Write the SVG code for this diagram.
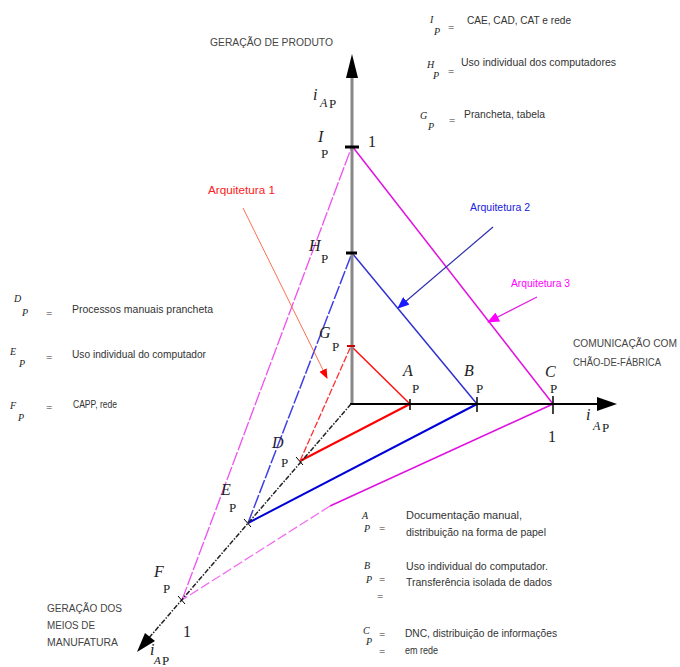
<svg xmlns="http://www.w3.org/2000/svg" width="680" height="667" viewBox="0 0 680 667">
<defs>
<marker id="mr" markerWidth="10" markerHeight="8" refX="9" refY="4" orient="auto" markerUnits="userSpaceOnUse"><path d="M0,0 L10,4 L0,8 Z" fill="#ff0000"/></marker>
<marker id="mb" markerWidth="12" markerHeight="10" refX="11" refY="5" orient="auto" markerUnits="userSpaceOnUse"><path d="M0,0 L12,5 L0,10 Z" fill="#1a1aff"/></marker>
<marker id="mm" markerWidth="12" markerHeight="10" refX="11" refY="5" orient="auto" markerUnits="userSpaceOnUse"><path d="M0,0 L12,5 L0,10 Z" fill="#ff00ff"/></marker>
</defs>
<style>
.lg{font-family:"Liberation Sans",Arial,sans-serif;font-size:10px;fill:#333}
.cap{font-family:"Liberation Sans",Arial,sans-serif;font-size:10px;fill:#444}
.v{font-family:"Liberation Serif","Times New Roman",serif;font-style:italic;fill:#222}
.vs{font-family:"Liberation Serif","Times New Roman",serif;font-size:10px;font-style:italic;fill:#222}
.eq{font-family:"Liberation Serif","Times New Roman",serif;font-size:11px;fill:#333}
.big{font-family:"Liberation Serif","Times New Roman",serif;font-size:16px;font-style:italic;fill:#222}
.sub{font-family:"Liberation Serif","Times New Roman",serif;font-size:13px;fill:#222}
.one{font-family:"Liberation Serif","Times New Roman",serif;font-size:16px;fill:#222}
</style>
<rect width="680" height="667" fill="#ffffff"/>

<g id="connectors" fill="none">
  <!-- architecture 3 (magenta) -->
  <line x1="352" y1="146" x2="553" y2="404" stroke="#e010e0" stroke-width="1.5"/>
  <line x1="553" y1="404" x2="330" y2="506" stroke="#e010e0" stroke-width="1.5"/>
  <line x1="330" y1="506" x2="182" y2="600" stroke="#f070f0" stroke-width="1.3" stroke-dasharray="10,3"/>
  <line x1="182" y1="600" x2="352" y2="146" stroke="#f050f0" stroke-width="1.3" stroke-dasharray="14,2"/>
  <!-- architecture 2 (blue) -->
  <line x1="352" y1="253" x2="477" y2="404" stroke="#3030d0" stroke-width="1.5"/>
  <line x1="477" y1="404" x2="248" y2="523" stroke="#0000d8" stroke-width="2"/>
  <line x1="248" y1="523" x2="352" y2="253" stroke="#4040e8" stroke-width="1.5" stroke-dasharray="14,2"/>
  <!-- architecture 1 (red) -->
  <line x1="351" y1="346" x2="410" y2="404" stroke="#ff1010" stroke-width="1.5"/>
  <line x1="410" y1="404" x2="300" y2="461" stroke="#ff0000" stroke-width="2"/>
  <line x1="300" y1="461" x2="351" y2="346" stroke="#ff3030" stroke-width="1.3" stroke-dasharray="7,2"/>
  <!-- axes -->
  <line x1="352" y1="404" x2="352" y2="76" stroke="#888888" stroke-width="3"/>
  <path d="M352,54 L346,78 L358,78 Z" fill="#000"/>
  <line x1="350" y1="404" x2="598" y2="404" stroke="#000" stroke-width="2"/>
  <path d="M617,404 L597,397 L597,411 Z" fill="#000"/>
  <line x1="351" y1="404" x2="148" y2="639" stroke="#222" stroke-width="1.5" stroke-dasharray="5,1.5,1.5,1.5"/>
  <path d="M137,652 L155,641 L145,633 Z" fill="#000"/>
  <!-- ticks -->
  <line x1="345" y1="147" x2="359" y2="147" stroke="#000" stroke-width="3"/>
  <line x1="346" y1="253" x2="357" y2="253" stroke="#000" stroke-width="3"/>
  <line x1="347" y1="346" x2="355" y2="346" stroke="#cc0000" stroke-width="2"/>
  <line x1="410" y1="399" x2="410" y2="410" stroke="#000" stroke-width="1.5"/>
  <line x1="477" y1="397" x2="477" y2="412" stroke="#000" stroke-width="1.5"/>
  <line x1="553" y1="396" x2="553" y2="414" stroke="#000" stroke-width="1.5"/>
  <line x1="296" y1="457" x2="303" y2="465" stroke="#000" stroke-width="1"/>
  <line x1="244" y1="519" x2="251" y2="527" stroke="#000" stroke-width="1"/>
  <line x1="178" y1="596" x2="185" y2="604" stroke="#000" stroke-width="1"/>
  <!-- architecture pointers -->
  <line x1="243" y1="208" x2="327" y2="378" stroke="#ff7050" stroke-width="1" marker-end="url(#mr)"/>
  <line x1="493" y1="227" x2="398" y2="308" stroke="#3030b0" stroke-width="1.2" marker-end="url(#mb)"/>
  <line x1="537" y1="297" x2="488" y2="322" stroke="#e020e0" stroke-width="1.2" marker-end="url(#mm)"/>
</g>

<g id="axis-product">
  <text class="cap" x="210" y="46" textLength="123" lengthAdjust="spacingAndGlyphs">GERAÇÃO DE PRODUTO</text>
  <text class="big" x="313" y="100">i</text><text class="v" font-size="12" x="320" y="107">A</text><text class="sub" font-size="11" x="329" y="108">P</text>
</g>
<g id="axis-shopfloor">
  <text class="cap" x="573" y="347" textLength="104" lengthAdjust="spacingAndGlyphs">COMUNICAÇÃO COM</text>
  <text class="cap" x="573" y="366" textLength="88" lengthAdjust="spacingAndGlyphs">CHÃO-DE-FÁBRICA</text>
  <text class="big" x="586" y="420">i</text><text class="v" font-size="12" x="593" y="430">A</text><text class="sub" font-size="11" x="602" y="432">P</text>
  <text class="one" x="548" y="442">1</text>
</g>
<g id="axis-manufacturing">
  <text class="cap" x="47" y="612" textLength="75" lengthAdjust="spacingAndGlyphs">GERAÇÃO DOS</text>
  <text class="cap" x="47" y="629" textLength="48" lengthAdjust="spacingAndGlyphs">MEIOS DE</text>
  <text class="cap" x="47" y="646" textLength="71" lengthAdjust="spacingAndGlyphs">MANUFATURA</text>
  <text class="big" x="150" y="655">i</text><text class="v" font-size="11" x="154" y="664">A</text><text class="sub" font-size="10" x="162" y="665">P</text>
  <text class="one" x="183" y="637">1</text>
</g>

<g id="point-I"><text class="big" x="318" y="142">I</text><text class="sub" x="321" y="158">P</text><text class="one" x="368" y="147">1</text></g>
<g id="point-H"><text class="big" x="309" y="251">H</text><text class="sub" x="321" y="263">P</text></g>
<g id="point-G"><text class="big" x="319" y="338">G</text><text class="sub" x="332" y="351">P</text></g>
<g id="point-A"><text class="big" x="403" y="376">A</text><text class="sub" x="412" y="393">P</text></g>
<g id="point-B"><text class="big" x="464" y="376">B</text><text class="sub" x="476" y="393">P</text></g>
<g id="point-C"><text class="big" x="545" y="377">C</text><text class="sub" x="550" y="393">P</text></g>
<g id="point-D"><text class="big" x="272" y="448" style="fill:#223">D</text><text class="sub" x="281" y="467">P</text></g>
<g id="point-E"><text class="big" x="221" y="495">E</text><text class="sub" x="229" y="512">P</text></g>
<g id="point-F"><text class="big" x="154" y="577">F</text><text class="sub" x="163" y="593">P</text></g>

<g id="arch1"><text class="lg" x="208" y="194" style="fill:#ff2020" textLength="67" lengthAdjust="spacingAndGlyphs">Arquitetura 1</text></g>
<g id="arch2"><text class="lg" x="470" y="211" style="fill:#2020e0" textLength="60" lengthAdjust="spacingAndGlyphs">Arquitetura 2</text></g>
<g id="arch3"><text class="lg" x="511" y="287" style="fill:#ff00ff" textLength="59" lengthAdjust="spacingAndGlyphs">Arquitetura 3</text></g>

<g id="legend-top">
  <text class="vs" x="430" y="23">I</text><text class="vs" x="434" y="35">P</text><text class="eq" x="448" y="31">=</text>
  <text class="lg" x="467" y="24" textLength="104" lengthAdjust="spacingAndGlyphs">CAE, CAD, CAT e rede</text>
  <text class="vs" x="427" y="68">H</text><text class="vs" x="433" y="79">P</text><text class="eq" x="448" y="75">=</text>
  <text class="lg" x="461" y="66" textLength="155" lengthAdjust="spacingAndGlyphs">Uso individual dos computadores</text>
  <text class="vs" x="420" y="119">G</text><text class="vs" x="428" y="130">P</text><text class="eq" x="449" y="124">=</text>
  <text class="lg" x="464" y="118" textLength="81" lengthAdjust="spacingAndGlyphs">Prancheta, tabela</text>
</g>
<g id="legend-left">
  <text class="vs" x="14" y="302">D</text><text class="vs" x="22" y="316">P</text><text class="eq" x="46" y="317">=</text>
  <text class="lg" x="72" y="313" textLength="141" lengthAdjust="spacingAndGlyphs">Processos manuais prancheta</text>
  <text class="vs" x="10" y="355">E</text><text class="vs" x="19" y="367">P</text><text class="eq" x="46" y="361">=</text>
  <text class="lg" x="72" y="358" textLength="134" lengthAdjust="spacingAndGlyphs">Uso individual do computador</text>
  <text class="vs" x="10" y="409">F</text><text class="vs" x="18" y="421">P</text><text class="eq" x="46" y="411">=</text>
  <text class="lg" x="73" y="408" textLength="44" lengthAdjust="spacingAndGlyphs">CAPP, rede</text>
</g>
<g id="legend-bottom">
  <text class="vs" x="362" y="519">A</text><text class="vs" x="364" y="532">P</text><text class="eq" x="379" y="532">=</text>
  <text class="lg" x="406" y="519" textLength="116" lengthAdjust="spacingAndGlyphs">Documentação manual,</text>
  <text class="lg" x="406" y="536" textLength="140" lengthAdjust="spacingAndGlyphs">distribuição na forma de papel</text>
  <text class="vs" x="364" y="569">B</text><text class="vs" x="366" y="583">P</text><text class="eq" x="379" y="583">=</text><text class="eq" x="377" y="600">=</text>
  <text class="lg" x="406" y="570" textLength="142" lengthAdjust="spacingAndGlyphs">Uso individual do computador.</text>
  <text class="lg" x="406" y="586" textLength="146" lengthAdjust="spacingAndGlyphs">Transferência isolada de dados</text>
  <text class="vs" x="363" y="634">C</text><text class="vs" x="366" y="645">P</text><text class="eq" x="379" y="638">=</text><text class="eq" x="379" y="655">=</text>
  <text class="lg" x="405" y="637" textLength="152" lengthAdjust="spacingAndGlyphs">DNC, distribuição de informações</text>
  <text class="lg" x="405" y="654" textLength="33" lengthAdjust="spacingAndGlyphs">em rede</text>
</g>
</svg>
